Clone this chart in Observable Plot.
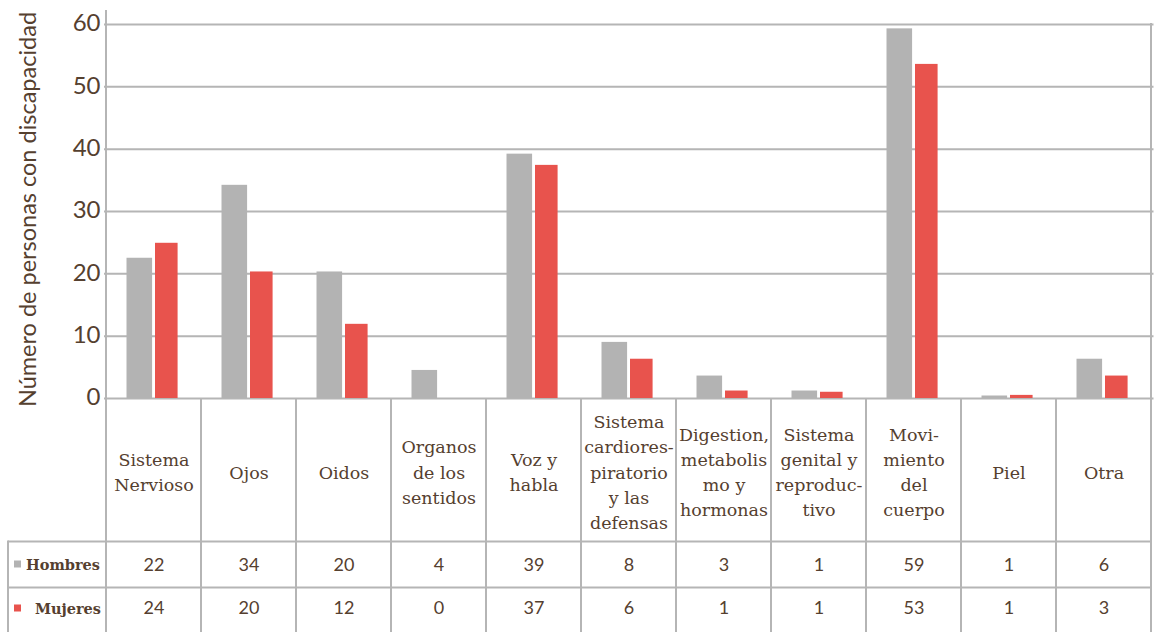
<!DOCTYPE html>
<html><head><meta charset="utf-8">
<script src="https://cdn.jsdelivr.net/npm/d3@7"></script>
<script src="https://cdn.jsdelivr.net/npm/@observablehq/plot@0.6"></script>
<style>body{margin:0;background:#fff;}</style>
</head><body><div id="chart"></div>
<script>
const categories = ["Sistema\nNervioso","Ojos","Oidos","Organos\nde los\nsentidos","Voz y\nhabla","Sistema\ncardiores-\npiratorio\ny las\ndefensas","Digestion,\nmetabolis\nmo y\nhormonas","Sistema\ngenital y\nreproduc-\ntivo","Movi-\nmiento\ndel\ncuerpo","Piel","Otra"];
const hombresBar = [22.5,34.2,20.3,4.5,39.2,9.0,3.6,1.2,59.3,0.4,6.3];
const mujeresBar = [24.9,20.3,11.9,0,37.4,6.3,1.2,1.0,53.6,0.5,3.6];
const hombresTabla = [22,34,20,4,39,8,3,1,59,1,6];
const mujeresTabla = [24,20,12,0,37,6,1,1,53,1,3];
const series = ["Hombres","Mujeres"];
const colors = ["#b3b3b3","#e8534d"];
const yTicks = [0,10,20,30,40,50,60];
const yTitle = "Número de personas con discapacidad";

const W=1156,H=632,ML=104,MR=2.5,MT=24,MB=234;
const n = categories.length;
const bw = (W-ML-MR)/n;
const textColor = "#55402f", gridColor = "#b5b5b5";

const bars = categories.flatMap((c,i)=>[
  {cat:c, serie:series[0], v:hombresBar[i], t:hombresTabla[i]},
  {cat:c, serie:series[1], v:mujeresBar[i], t:mujeresTabla[i]}
]);
const hom = bars.filter(d=>d.serie===series[0]);
const muj = bars.filter(d=>d.serie===series[1]);

const plot = Plot.plot({
  width:W, height:H, marginLeft:ML, marginRight:MR, marginTop:MT, marginBottom:MB,
  style:{fontFamily:"Lato", color:textColor, background:"#fff", overflow:"visible"},
  x:{domain:categories, padding:0, axis:null},
  y:{domain:[0,60], axis:null},
  color:{domain:series, range:colors},
  marks:[
    Plot.ruleY(yTicks,{stroke:gridColor, strokeWidth:2}),
    Plot.barY(hom,{x:"cat", y:"v", fill:"serie", insetLeft:20.5, insetRight:bw-46.5}),
    Plot.barY(muj,{x:"cat", y:"v", fill:"serie", insetLeft:49, insetRight:bw-72}),
    Plot.text(yTicks,{y:d=>d, text:d=>String(d), frameAnchor:"left", dx:-4, dy:-1, textAnchor:"end", fontSize:24, fill:textColor, fontFamily:"Lato"}),
    Plot.text([yTitle],{text:d=>d, frameAnchor:"left", textAnchor:"middle", lineAnchor:"middle", dx:-76, dy:-2, rotate:-90, fontSize:23.5, fill:textColor, fontFamily:"Lato"}),
    Plot.text(categories,{x:d=>d, text:d=>d, frameAnchor:"bottom", dy:72, lineAnchor:"middle", lineHeight:1.43, fontSize:17.5, fill:textColor, fontFamily:"DejaVu Serif"}),
    Plot.text(hom,{x:"cat", text:d=>String(d.t), frameAnchor:"bottom", dy:167, lineAnchor:"middle", fontSize:18, fill:textColor, fontFamily:"Lato"}),
    Plot.text(muj,{x:"cat", text:d=>String(d.t), frameAnchor:"bottom", dy:210, lineAnchor:"middle", fontSize:18, fill:textColor, fontFamily:"Lato"})
  ]
});

document.getElementById("chart").appendChild(plot);

// table grid drawn from the library's x scale
const svg = d3.select(plot);
const xs = plot.scale("x");
const x0 = xs.apply(categories[0]);
const step = xs.apply(categories[1]) - x0;
const edges = categories.map(c=>xs.apply(c));
edges.push(edges[n-1]+step);
const yBase = H-MB, yTop = MT, rowA = 541.5, rowB = 587.5;
const g = svg.append("g").attr("stroke",gridColor).attr("stroke-width",2).attr("fill","none");
g.append("line").attr("x1",edges[0]).attr("x2",edges[0]).attr("y1",10).attr("y2",H);
edges.slice(1).forEach((e,i)=>{
  g.append("line").attr("x1",e).attr("x2",e).attr("y1", i===n-1 ? yTop-1 : yBase).attr("y2",H);
});
[rowA,rowB].forEach(y=>g.append("line").attr("x1",8).attr("x2",edges[n]+1).attr("y1",y).attr("y2",y));
g.append("line").attr("x1",8).attr("x2",8).attr("y1",rowA-1).attr("y2",H);

// row labels
const rowsY = [565, 609];
const rowsX = [100, 101];
series.forEach((s,i)=>{
  svg.append("rect").attr("x",14).attr("y",rowsY[i]-4.5).attr("width",7).attr("height",7).attr("fill",colors[i]);
  svg.append("text").attr("x",rowsX[i]).attr("y",rowsY[i]).attr("dy","0.35em")
    .attr("text-anchor","end").attr("font-family","DejaVu Serif").attr("font-weight","bold")
    .attr("font-size",14.5).attr("fill",textColor).text(s);
});
</script>
</body></html>
